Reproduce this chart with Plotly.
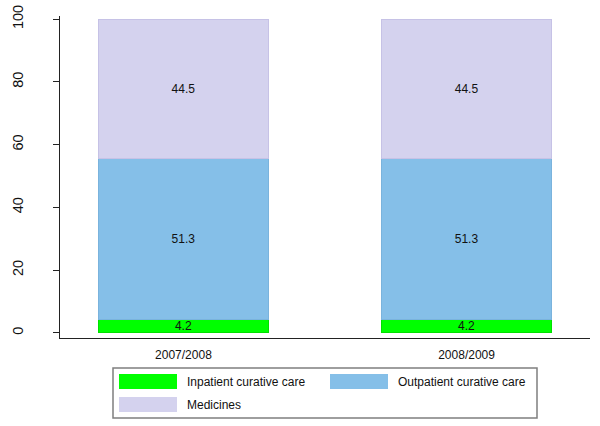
import plotly.graph_objects as go

# data
years = ["2007/2008", "2008/2009"]
inpatient = [4.2, 4.2]
outpatient = [51.3, 51.3]
medicines = [44.5, 44.5]

series_names = ["Inpatient curative care", "Outpatient curative care", "Medicines"]
series_values = [inpatient, outpatient, medicines]
series_colors = ["#00ff00", "#85bfe8", "#d4d2ee"]
series_lines = ["#00e000", "#7ab3dd", "#c6c2e6"]

W, H = 600, 426
L, R, T, B = 60, 10, 16, 88
pw, ph = W - L - R, H - T - B


def px_x(x):
    return (x - L) / pw


def px_y(y):
    return (H - B - y) / ph


fig = go.Figure()
for name, vals, col, lc in zip(series_names, series_values, series_colors, series_lines):
    fig.add_trace(go.Bar(
        x=years, y=vals, name=name,
        marker=dict(color=col, line=dict(color=lc, width=1)),
        width=0.6,
        text=[f"{v:.1f}" for v in vals],
        textposition="inside", insidetextanchor="middle",
        constraintext="none",
        textfont=dict(color="#111111", size=12),
        showlegend=False,
    ))

# hand-built legend (wide keys like the original)
shapes = [dict(type="rect", xref="paper", yref="paper",
               x0=px_x(113), x1=px_x(537), y0=px_y(368), y1=px_y(418),
               line=dict(color="#7f7f7f", width=1.5), fillcolor="white")]
annotations = []
slots = [(119, 374), (330, 374), (119, 397)]
for (sx, sy), name, col in zip(slots, series_names, series_colors):
    shapes.append(dict(type="rect", xref="paper", yref="paper",
                       x0=px_x(sx), x1=px_x(sx + 58), y0=px_y(sy), y1=px_y(sy + 15),
                       line=dict(width=0), fillcolor=col))
    annotations.append(dict(xref="paper", yref="paper", x=px_x(sx + 66), y=px_y(sy + 7.5),
                            text=name, showarrow=False, xanchor="left", yanchor="middle",
                            font=dict(size=12, color="#111111")))

fig.update_layout(
    width=W, height=H,
    margin=dict(l=L, r=R, t=T, b=B),
    barmode="stack",
    plot_bgcolor="white", paper_bgcolor="white",
    font=dict(family="Liberation Sans, Arial, sans-serif", color="#111111"),
    shapes=shapes, annotations=annotations,
)
fig.update_xaxes(
    range=[-0.436, 1.436], showline=True, linecolor="#222222", linewidth=1,
    ticks="", tickfont=dict(size=12), ticklabelstandoff=6,
    showgrid=False, zeroline=False, automargin=False,
)
fig.update_yaxes(
    range=[-1.6, 101], tickvals=[0, 20, 40, 60, 80, 100],
    showline=True, linecolor="#222222", linewidth=1,
    ticks="outside", ticklen=6, tickcolor="#222222",
    tickangle=-90, tickfont=dict(size=14.5), ticklabelstandoff=24,
    showgrid=False, zeroline=False, automargin=False,
)

# drop the browser's default body margin so the figure sits at the page corner
fig.write_html("out.html", config={"displayModeBar": False},
               post_script="document.body.style.margin='0';")
